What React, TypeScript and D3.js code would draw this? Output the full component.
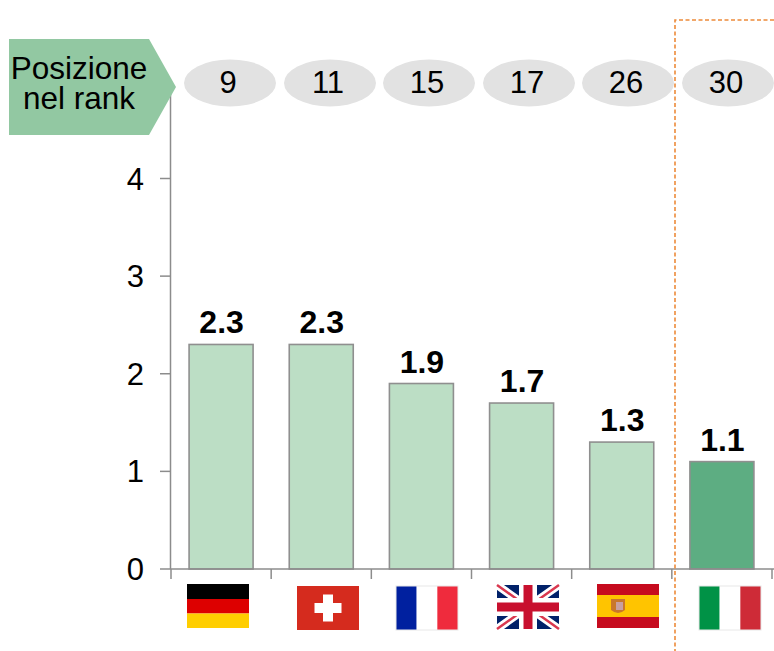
import React from "react";
import * as d3 from "d3";

const countries = ["Germania", "Svizzera", "Francia", "Regno Unito", "Spagna", "Italia"];
const values = [2.3, 2.3, 1.9, 1.7, 1.3, 1.1];
const ranks = [9, 11, 15, 17, 26, 30];
const yTicks = [0, 1, 2, 3, 4];

const FONT = "'Liberation Sans', Arial, sans-serif";
const x = d3.scaleBand<string>().domain(countries).range([171, 772]);
const y = d3.scaleLinear().domain([0, 4]).range([569, 178.5]);
const AXIS = "#8c8c8c";
const W = 62;
const H = 44;

function Flag({ name, cx, top }: { name: string; cx: number; top: number }) {
  const l = cx - W / 2;
  const stripesH = (cols: string[], hs: number[]) => {
    let yy = top;
    return cols.map((c, i) => {
      const el = <rect key={i} x={l} y={yy} width={W} height={hs[i]} fill={c} />;
      yy += hs[i];
      return el;
    });
  };
  const stripesV = (cols: string[]) =>
    cols.map((c, i) => <rect key={i} x={l + (i * W) / 3} y={top} width={W / 3} height={H} fill={c} />);
  if (name === "Germania") return <g>{stripesH(["#000000", "#dd0000", "#ffce00"], [15, 14.5, 14.5])}</g>;
  if (name === "Svizzera")
    return (
      <g>
        <rect x={l} y={top} width={W} height={H} fill="#d52b1e" />
        <rect x={cx - 13.5} y={top + 17} width={27} height={10} fill="#fff" />
        <rect x={cx - 5} y={top + 8.5} width={10} height={27} fill="#fff" />
      </g>
    );
  if (name === "Francia") return <g>{stripesV(["#00209f", "#ffffff", "#ef2b3d"])}<rect x={l} y={top} width={W} height={H} fill="none" stroke="#e8e8e8" /></g>;
  if (name === "Italia") return <g>{stripesV(["#009246", "#ffffff", "#ce2b37"])}<rect x={l} y={top} width={W} height={H} fill="none" stroke="#e8e8e8" /></g>;
  if (name === "Spagna")
    return (
      <g>
        {stripesH(["#c60b1e", "#ffc400", "#c60b1e"], [11, 22, 11])}
        <path d={`M${cx - 17},${top + 15}h14v11q-7,6 -14,0z`} fill="#c9772b" />
        <path d={`M${cx - 12},${top + 18}h7v8h-7z`} fill="#c8a0a0" />
      </g>
    );
  const r = l + W;
  const b = top + H;
  const my = top + H / 2;
  return (
    <g>
      <rect x={l} y={top} width={W} height={H} fill="#012169" />
      <path d={`M${l},${top}L${r},${b}M${r},${top}L${l},${b}`} stroke="#fff" strokeWidth={8} />
      <path d={`M${l},${top}L${r},${b}M${r},${top}L${l},${b}`} stroke="#d9384f" strokeWidth={2.5} />
      <rect x={cx - 9} y={top} width={18} height={H} fill="#fff" />
      <rect x={l} y={my - 9} width={W} height={18} fill="#fff" />
      <rect x={cx - 4.5} y={top} width={9} height={H} fill="#c8102e" />
      <rect x={l} y={my - 4.5} width={W} height={9} fill="#c8102e" />
    </g>
  );
}

const flagCenter = [218, 328, 427, 528, 628, 730];
const flagTop = [584, 586, 586, 585, 584, 586];
const ovalCenter = [230, 330, 429, 529, 628, 728];

export default function App() {
  const bw = 64;
  return (
    <svg width={774} height={651} style={{ position: "absolute", left: 0, top: 0, background: "#fff" }} fontFamily={FONT}>
      {countries.map((c, i) => (
        <rect
          key={c}
          x={x(c)! + x.bandwidth() / 2 - bw / 2}
          y={y(values[i])}
          width={bw}
          height={y(0) - y(values[i])}
          fill={i === 5 ? "#5dad82" : "#bcdec5"}
          stroke="#8f8f8f"
          strokeWidth={1.6}
        />
      ))}
      {countries.map((c, i) => (
        <text
          key={c}
          x={x(c)! + x.bandwidth() / 2 + 0.5}
          y={y(values[i]) - 11}
          textAnchor="middle"
          fontSize={32}
          fontWeight="bold"
          fill="#000"
        >
          {values[i].toFixed(1)}
        </text>
      ))}
      <line x1={170.5} x2={170.5} y1={90} y2={569} stroke={AXIS} strokeWidth={1.5} />
      <line x1={170} x2={774} y1={569} y2={569} stroke={AXIS} strokeWidth={1.5} />
      {yTicks.map((t) => (
        <g key={t}>
          <line x1={160} x2={170} y1={y(t)} y2={y(t)} stroke={AXIS} strokeWidth={1.5} />
          <text x={144} y={y(t) + 11} textAnchor="end" fontSize={31} fill="#000">
            {t}
          </text>
        </g>
      ))}
      {[...countries.map((c) => x(c)!), 772].map((v, i) => (
        <line key={i} x1={v} x2={v} y1={569} y2={579} stroke={AXIS} strokeWidth={1.5} />
      ))}
      {countries.map((c, i) => (
        <Flag key={c} name={c} cx={flagCenter[i]} top={flagTop[i]} />
      ))}
      {ranks.map((r, i) => (
        <g key={r}>
          <ellipse cx={ovalCenter[i]} cy={83} rx={46} ry={23.5} fill="#e2e2e2" />
          <text x={ovalCenter[i] - 2} y={93} textAnchor="middle" fontSize={31} fill="#000">
            {r}
          </text>
        </g>
      ))}
      <polygon points="9,39 149,39 176,87 149,135 9,135" fill="#92c8a2" />
      <text textAnchor="middle" fontSize={31.5} fill="#000">
        <tspan x={79} y={79}>Posizione</tspan>
        <tspan x={79} y={109}>nel rank</tspan>
      </text>
      <path d="M774,20H675V651" fill="none" stroke="#ed8b3a" strokeWidth={1.6} strokeDasharray="4 2.5" />
    </svg>
  );
}
